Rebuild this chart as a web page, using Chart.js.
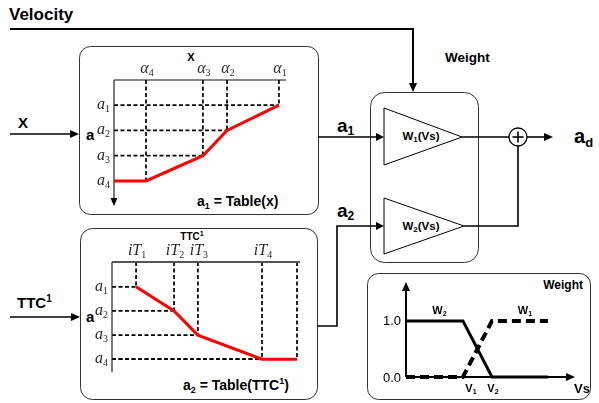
<!DOCTYPE html>
<html>
<head>
<meta charset="utf-8">
<script src="https://cdn.jsdelivr.net/npm/chart.js@4.4.0/dist/chart.umd.min.js"></script>
<style>
  html, body { margin: 0; padding: 0; background: #fff; }
  #stage { position: relative; width: 599px; height: 403px; overflow: hidden; }
  #stage svg { position: absolute; left: 0; top: 0; }
  #stage canvas { position: absolute; }
  .b { font-family: "Liberation Sans", Arial, sans-serif; font-weight: bold; fill: #000; }
</style>
</head>
<body>
<div id="stage">
<svg width="599" height="403" viewBox="0 0 599 403">
  <!-- block outlines -->
  <g fill="none" stroke="#333" stroke-width="1">
    <rect x="79.5" y="46.5" width="239" height="168" rx="11"/>
    <rect x="80.5" y="228.5" width="237" height="171" rx="12"/>
    <rect x="370.5" y="92.5" width="108" height="170" rx="14"/>
    <rect x="367.5" y="273.5" width="223" height="126" rx="11"/>
  </g>
  <!-- signal wiring -->
  <g fill="none" stroke="#000" stroke-width="1.6">
    <polyline points="10,29 413,29 413,85" stroke-width="2"/>
    <line x1="10" y1="134" x2="72" y2="134"/>
    <line x1="10" y1="317" x2="73" y2="317"/>
    <line x1="318" y1="137" x2="377" y2="137"/>
    <polyline points="317,326 337,326 337,226 377,226"/>
    <line x1="462" y1="137" x2="509" y2="137"/>
    <line x1="527" y1="137" x2="546" y2="137"/>
    <polyline points="464,226 518,226 518,146"/>
  </g>
  <g fill="#000">
    <polygon points="413,92 409,83 417,83"/>
    <polygon points="79,134 70,130 70,138"/>
    <polygon points="80,317 71,313 71,321"/>
    <polygon points="384,137 376,133 376,141"/>
    <polygon points="384,226 376,222 376,230"/>
    <polygon points="553,137 544,133 544,141"/>
  </g>
  <!-- gain blocks and summing junction -->
  <g fill="none" stroke="#000" stroke-width="1">
    <polygon points="384,108 384,165 462,137"/>
    <polygon points="384,198 384,254 464,226"/>
    <circle cx="518" cy="137" r="9" stroke-width="1.3"/>
    <line x1="512.5" y1="137" x2="523.5" y2="137" stroke-width="1.6"/>
    <line x1="518" y1="131.5" x2="518" y2="142.5" stroke-width="1.6"/>
  </g>
  <!-- text -->
  <text class="b" x="9" y="20" font-size="17">Velocity</text>
  <text class="b" x="18" y="128" font-size="15">X</text>
  <text class="b" x="17" y="308" font-size="15">TTC<tspan font-size="10" dy="-6">1</tspan></text>
  <text class="b" x="86" y="140" font-size="15">a</text>
  <text class="b" x="86" y="322" font-size="15">a</text>
  <text class="b" x="191" y="61" font-size="11" text-anchor="middle">X</text>
  <text class="b" x="192" y="240" font-size="10" text-anchor="middle">TTC<tspan font-size="7" dy="-4">1</tspan></text>
  <text class="b" x="197" y="206" font-size="14">a<tspan font-size="9" dy="3">1</tspan><tspan dy="-3">  = Table(x)</tspan></text>
  <text class="b" x="183" y="390" font-size="14">a<tspan font-size="9" dy="3">2</tspan><tspan dy="-3">  = Table(TTC</tspan><tspan font-size="9" dy="-6">1</tspan><tspan dy="6">)</tspan></text>
  <text class="b" x="445" y="62" font-size="13.5">Weight</text>
  <text class="b" x="337" y="132" font-size="19">a<tspan font-size="12" dy="3">1</tspan></text>
  <text class="b" x="337" y="217" font-size="19">a<tspan font-size="12" dy="3">2</tspan></text>
  <text class="b" x="421" y="140" font-size="11.5" text-anchor="middle">W<tspan font-size="8" dy="2">1</tspan><tspan dy="-2">(Vs)</tspan></text>
  <text class="b" x="421" y="230" font-size="11.5" text-anchor="middle">W<tspan font-size="8" dy="2">2</tspan><tspan dy="-2">(Vs)</tspan></text>
  <text class="b" x="574" y="143" font-size="20">a<tspan font-size="13" dy="4">d</tspan></text>
  <text class="b" x="583" y="289" font-size="12" text-anchor="end">Weight</text>
</svg>
<canvas id="tableX" width="219" height="158" style="left:79px;top:55px"></canvas>
<canvas id="tableTTC" width="235" height="145" style="left:77px;top:237px"></canvas>
<canvas id="weights" width="228" height="124" style="left:366px;top:277px"></canvas>
</div>

<script>
// ---- lookup table a1 = Table(x) ----
const xBreaks = [0, 1.86, 5.17, 6.57, 9.59];
const xLevels = [1, 1, 2, 3, 4];
const xTickValues = [1.86, 5.17, 6.57, 9.59];
const xTickLabels = ['α4', 'α3', 'α2', 'α1'];

// ---- lookup table a2 = Table(TTC^-1) ----
const ttcBreaks = [1.28, 3.30, 4.57, 7.98, 9.84];
const ttcLevels = [4, 3, 2, 1, 1];
const ttcTickValues = [1.28, 3.30, 4.57, 7.98];
const ttcTickLabels = ['iT1', 'iT2', 'iT3', 'iT4'];

// ---- output levels shared by both tables ----
const levelValues = [4, 3, 2, 1];
const levelLabels = ['a1', 'a2', 'a3', 'a4'];

// ---- speed dependent weights ----
const vsPoints = [0, 3.43, 5.18, 8.55];
const w1Values = [0, 0, 1, 1];
const w2Values = [1, 1, 0, 0];
const weightTickValues = [1, 0];
const weightTickLabels = ['1.0', '0.0'];
const vsTickValues = [3.43, 5.18];
const vsTickLabels = ['V1', 'V2'];

const SANS = '"Liberation Sans", Arial, sans-serif';
const SERIF = '"Liberation Serif", "DejaVu Serif", serif';

// Label with trailing digits set as a subscript, e.g. "a1" -> a with small 1.
function subLabel(ctx, text, x, y, size, style, subStyle, family, align, subShift) {
  const m = text.match(/^(.*?)(\d+)?$/);
  const base = m[1], sub = m[2] || '';
  const subSize = Math.round(size * 0.62);
  ctx.font = `${style} ${size}px ${family}`;
  const wb = ctx.measureText(base).width;
  ctx.font = `${subStyle} ${subSize}px ${family}`;
  const ws = ctx.measureText(sub).width;
  const total = wb + ws;
  let sx = x;
  if (align === 'center') sx = x - total / 2;
  else if (align === 'right') sx = x - total;
  ctx.textAlign = 'left';
  ctx.textBaseline = 'alphabetic';
  ctx.font = `${style} ${size}px ${family}`;
  ctx.fillText(base, sx, y);
  ctx.font = `${subStyle} ${subSize}px ${family}`;
  ctx.fillText(sub, sx + wb, y + subShift);
}

// Axes, dashed read-off guides and italic tick names for a lookup table.
function tablePlugin(tickValues, tickLabels, arrow, axisColor, axisWidth) {
  return {
    id: 'tableFrame',
    beforeDatasetsDraw(chart) {
      const { ctx, chartArea: a, scales: { x, y } } = chart;
      const pts = chart.data.datasets[0].data;
      ctx.save();
      ctx.strokeStyle = '#000';
      ctx.lineWidth = 1.7;
      ctx.setLineDash([4, 2.5]);
      pts.forEach(p => {
        if (p.x <= 0) return;
        const px = x.getPixelForValue(p.x), py = y.getPixelForValue(p.y);
        ctx.beginPath();
        ctx.moveTo(px, a.top);
        ctx.lineTo(px, py);
        ctx.moveTo(a.left, py);
        ctx.lineTo(px, py);
        ctx.stroke();
      });
      ctx.setLineDash([]);
      ctx.strokeStyle = axisColor;
      ctx.lineWidth = axisWidth;
      ctx.beginPath();
      ctx.moveTo(a.left, a.top);
      ctx.lineTo(a.right, a.top);
      ctx.stroke();
      ctx.strokeStyle = '#222';
      ctx.lineWidth = 1.2;
      ctx.beginPath();
      ctx.moveTo(a.left, a.top);
      ctx.lineTo(a.left, a.bottom - (arrow ? 2 : 0));
      ctx.stroke();
      if (arrow) {
        ctx.fillStyle = '#000';
        ctx.beginPath();
        ctx.moveTo(a.left, a.bottom + 3);
        ctx.lineTo(a.left - 3.5, a.bottom - 5);
        ctx.lineTo(a.left + 3.5, a.bottom - 5);
        ctx.closePath();
        ctx.fill();
      }
      ctx.fillStyle = '#2a2a2a';
      tickValues.forEach((v, i) => {
        subLabel(ctx, tickLabels[i], x.getPixelForValue(v) + 1, a.top - 7, 16, 'italic', 'normal', SERIF, 'center', 3);
      });
      levelValues.forEach((v, i) => {
        subLabel(ctx, levelLabels[i], a.left - 4, y.getPixelForValue(v) + 4, 16, 'italic', 'normal', SERIF, 'right', 3);
      });
      ctx.restore();
    }
  };
}

// Axes with arrows, tick texts and curve names for the weight plot.
const weightFrame = {
  id: 'weightFrame',
  beforeDatasetsDraw(chart) {
    const { ctx, chartArea: a, scales: { x, y } } = chart;
    ctx.save();
    ctx.strokeStyle = '#000';
    ctx.fillStyle = '#000';
    ctx.lineWidth = 2;
    ctx.beginPath();
    ctx.moveTo(a.left, a.bottom);
    ctx.lineTo(a.left, a.top + 4);
    ctx.moveTo(a.left, a.bottom);
    ctx.lineTo(a.right - 4, a.bottom);
    ctx.stroke();
    ctx.beginPath();
    ctx.moveTo(a.left, a.top - 3);
    ctx.lineTo(a.left - 4, a.top + 6);
    ctx.lineTo(a.left + 4, a.top + 6);
    ctx.closePath();
    ctx.fill();
    ctx.beginPath();
    ctx.moveTo(a.right + 3, a.bottom);
    ctx.lineTo(a.right - 6, a.bottom - 4);
    ctx.lineTo(a.right - 6, a.bottom + 4);
    ctx.closePath();
    ctx.fill();

    ctx.font = `13px ${SANS}`;
    ctx.textAlign = 'right';
    ctx.textBaseline = 'middle';
    weightTickValues.forEach((v, i) => {
      ctx.fillText(weightTickLabels[i], a.left - 5, y.getPixelForValue(v) + 1);
    });
    const vsShift = [8, 1];
    vsTickValues.forEach((v, i) => {
      subLabel(ctx, vsTickLabels[i], x.getPixelForValue(v) + vsShift[i], a.bottom + 15, 11, 'bold', 'bold', SANS, 'center', 2);
    });
    ctx.font = `bold 13px ${SANS}`;
    ctx.textAlign = 'left';
    ctx.textBaseline = 'alphabetic';
    ctx.fillText('Vs', a.right + 2, a.bottom + 16);

    // curve names sit above the stretch where each weight is 1
    chart.data.datasets.forEach(ds => {
      const ones = ds.data.filter(p => p.y === 1);
      const mid = (ones[0].x + ones[ones.length - 1].x) / 2;
      subLabel(ctx, ds.label, x.getPixelForValue(mid) + 5, y.getPixelForValue(1) - 7, 11, 'bold', 'bold', SANS, 'center', 2);
    });
    ctx.restore();
  }
};

function tableChart(id, xs, ys, yMin, yMax, pad, plugin) {
  return new Chart(document.getElementById(id), {
    type: 'line',
    data: {
      datasets: [{
        data: xs.map((v, i) => ({ x: v, y: ys[i] })),
        borderColor: '#ff0000',
        borderWidth: 3,
        pointRadius: 0,
        tension: 0,
        clip: false
      }]
    },
    options: {
      responsive: false,
      animation: false,
      events: [],
      layout: { padding: pad },
      plugins: { legend: { display: false }, tooltip: { enabled: false } },
      scales: {
        x: { type: 'linear', display: false, min: 0, max: 10 },
        y: { type: 'linear', display: false, min: yMin, max: yMax }
      }
    },
    plugins: [plugin]
  });
}

tableChart('tableX', xBreaks, xLevels, 0.13, 4.99,
  { left: 35, top: 25, right: 12, bottom: 10 },
  tablePlugin(xTickValues, xTickLabels, true, '#111', 1.2));

tableChart('tableTTC', ttcBreaks, ttcLevels, 0.47, 5.03,
  { left: 35, top: 25, right: 12, bottom: 10 },
  tablePlugin(ttcTickValues, ttcTickLabels, false, '#555', 2));

new Chart(document.getElementById('weights'), {
  type: 'line',
  data: {
    datasets: [
      {
        label: 'W2',
        data: vsPoints.map((v, i) => ({ x: v, y: w2Values[i] })),
        borderColor: '#000',
        borderWidth: 3,
        pointRadius: 0,
        tension: 0,
        clip: false
      },
      {
        label: 'W1',
        data: vsPoints.map((v, i) => ({ x: v, y: w1Values[i] })),
        borderColor: '#000',
        borderWidth: 4,
        borderDash: [9, 5],
        borderCapStyle: 'butt',
        pointRadius: 0,
        tension: 0,
        clip: false
      }
    ]
  },
  options: {
    responsive: false,
    animation: false,
    events: [],
    layout: { padding: { left: 40, top: 8, right: 22, bottom: 24 } },
    plugins: { legend: { display: false }, tooltip: { enabled: false } },
    scales: {
      x: { type: 'linear', display: false, min: 0, max: 10 },
      y: { type: 'linear', display: false, min: 0, max: 1.64 }
    }
  },
  plugins: [weightFrame]
});
</script>
</body>
</html>
